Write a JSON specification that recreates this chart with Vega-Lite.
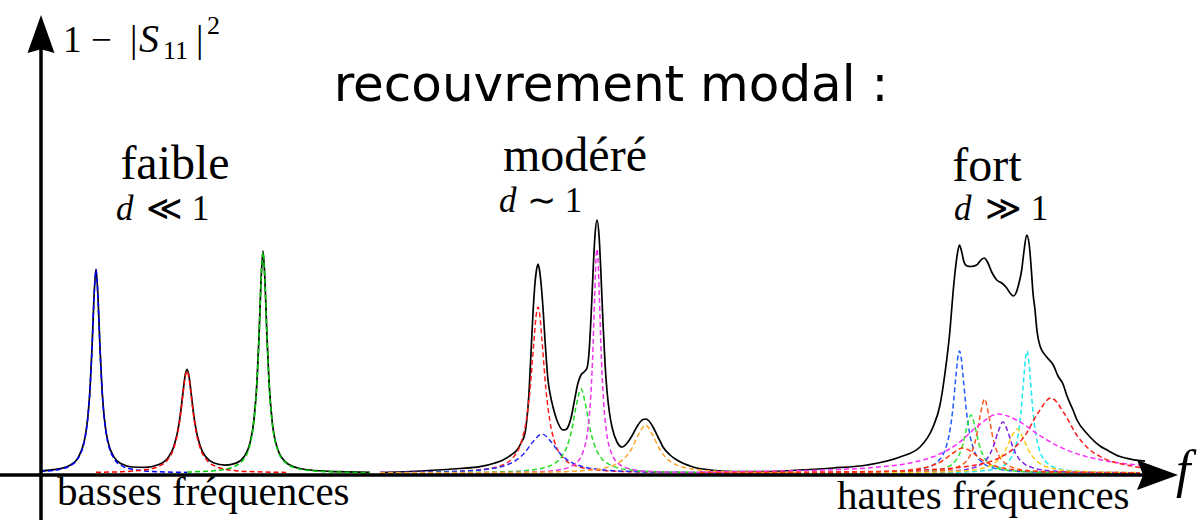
{
  "$schema": "https://vega.github.io/schema/vega-lite/v6.json",
  "width": 1203,
  "height": 520,
  "autosize": "none",
  "padding": 0,
  "background": "white",
  "config": {"view": {"stroke": null}},
  "datasets": {
    "courbes": [
      {"serie":"T1","x":40,"y":2},{"serie":"T1","x":60,"y":4.3},{"serie":"T1","x":70,"y":7.8},{"serie":"T1","x":78,"y":15.2},{"serie":"T1","x":84,"y":30.7},{"serie":"T1","x":86,"y":41.3},{"serie":"T1","x":88,"y":57.8},{"serie":"T1","x":90,"y":84},{"serie":"T1","x":92,"y":124.6},{"serie":"T1","x":94,"y":175.9},{"serie":"T1","x":96,"y":203.9},{"serie":"T1","x":98,"y":175.9},{"serie":"T1","x":100,"y":124.8},{"serie":"T1","x":102,"y":84.2},{"serie":"T1","x":104,"y":58.1},{"serie":"T1","x":106,"y":41.7},{"serie":"T1","x":108,"y":31.1},{"serie":"T1","x":114,"y":15.9},{"serie":"T1","x":122,"y":8.9},{"serie":"T1","x":132,"y":6},{"serie":"T1","x":145,"y":5.6},{"serie":"T1","x":158,"y":8.2},{"serie":"T1","x":168,"y":15.3},{"serie":"T1","x":174,"y":27},{"serie":"T1","x":179,"y":49.2},{"serie":"T1","x":181,"y":63.7},{"serie":"T1","x":183,"y":80.9},{"serie":"T1","x":185,"y":96.7},{"serie":"T1","x":187,"y":103.6},{"serie":"T1","x":189,"y":96.8},{"serie":"T1","x":191,"y":81},{"serie":"T1","x":193,"y":63.9},{"serie":"T1","x":195,"y":49.4},{"serie":"T1","x":200,"y":27.4},{"serie":"T1","x":206,"y":15.9},{"serie":"T1","x":214,"y":10},{"serie":"T1","x":225,"y":7.9},{"serie":"T1","x":236,"y":9.9},{"serie":"T1","x":244,"y":16.3},{"serie":"T1","x":250,"y":30.1},{"serie":"T1","x":254,"y":53.6},{"serie":"T1","x":257,"y":91.9},{"serie":"T1","x":259,"y":136.1},{"serie":"T1","x":261,"y":191.7},{"serie":"T1","x":263,"y":222.2},{"serie":"T1","x":265,"y":191.6},{"serie":"T1","x":267,"y":135.9},{"serie":"T1","x":269,"y":91.6},{"serie":"T1","x":272,"y":53.1},{"serie":"T1","x":278,"y":22.9},{"serie":"T1","x":286,"y":10.7},{"serie":"T1","x":298,"y":5},{"serie":"T1","x":315,"y":2.5},{"serie":"T1","x":340,"y":1.3},{"serie":"T1","x":370,"y":0.7},

      {"serie":"T2","x":380,"y":0.5},{"serie":"T2","x":410,"y":1.5},{"serie":"T2","x":437,"y":3},{"serie":"T2","x":460,"y":4.5},{"serie":"T2","x":480,"y":6.3},{"serie":"T2","x":495,"y":10},{"serie":"T2","x":503,"y":13},{"serie":"T2","x":511,"y":18},{"serie":"T2","x":517,"y":23},{"serie":"T2","x":521,"y":30},{"serie":"T2","x":525,"y":40},{"serie":"T2","x":527,"y":55},{"serie":"T2","x":529,"y":80},{"serie":"T2","x":531,"y":120},{"serie":"T2","x":533,"y":160},{"serie":"T2","x":535,"y":190},{"serie":"T2","x":536.5,"y":203},{"serie":"T2","x":538,"y":209},{"serie":"T2","x":539.5,"y":203},{"serie":"T2","x":541,"y":190},{"serie":"T2","x":543,"y":165},{"serie":"T2","x":545,"y":133},{"serie":"T2","x":548,"y":93},{"serie":"T2","x":550.5,"y":77},{"serie":"T2","x":553,"y":66},{"serie":"T2","x":558,"y":50},{"serie":"T2","x":563,"y":43},{"serie":"T2","x":566,"y":43.5},{"serie":"T2","x":568,"y":46},{"serie":"T2","x":571,"y":55},{"serie":"T2","x":574,"y":70},{"serie":"T2","x":578,"y":90},{"serie":"T2","x":581,"y":98},{"serie":"T2","x":584,"y":101},{"serie":"T2","x":587,"y":105},{"serie":"T2","x":589,"y":120},{"serie":"T2","x":591,"y":155},{"serie":"T2","x":593,"y":200},{"serie":"T2","x":595,"y":238},{"serie":"T2","x":597,"y":253},{"serie":"T2","x":599,"y":238},{"serie":"T2","x":601,"y":198},{"serie":"T2","x":603,"y":150},{"serie":"T2","x":605,"y":110},{"serie":"T2","x":607,"y":82},{"serie":"T2","x":609.5,"y":60},{"serie":"T2","x":612,"y":46},{"serie":"T2","x":617,"y":31},{"serie":"T2","x":622,"y":26},{"serie":"T2","x":628,"y":31},{"serie":"T2","x":633,"y":39},{"serie":"T2","x":638,"y":48},{"serie":"T2","x":643,"y":53.5},{"serie":"T2","x":646,"y":54},{"serie":"T2","x":649,"y":52},{"serie":"T2","x":653,"y":46},{"serie":"T2","x":658,"y":36},{"serie":"T2","x":663,"y":26},{"serie":"T2","x":670,"y":18},{"serie":"T2","x":677,"y":13},{"serie":"T2","x":693,"y":6},{"serie":"T2","x":710,"y":3},{"serie":"T2","x":733,"y":1.5},{"serie":"T2","x":767,"y":1.5},{"serie":"T2","x":800,"y":3},{"serie":"T2","x":833,"y":5},{"serie":"T2","x":867,"y":8},{"serie":"T2","x":900,"y":16},{"serie":"T2","x":920,"y":26},{"serie":"T2","x":933,"y":46},{"serie":"T2","x":940,"y":68},{"serie":"T2","x":945,"y":100},{"serie":"T2","x":950,"y":143},{"serie":"T2","x":953,"y":180},{"serie":"T2","x":955.5,"y":205},{"serie":"T2","x":957.5,"y":220},{"serie":"T2","x":959.5,"y":228},{"serie":"T2","x":961.5,"y":222},{"serie":"T2","x":964,"y":211},{"serie":"T2","x":967,"y":207},{"serie":"T2","x":971,"y":206.5},{"serie":"T2","x":976.7,"y":208},{"serie":"T2","x":981,"y":213},{"serie":"T2","x":984.3,"y":215},{"serie":"T2","x":987.5,"y":211},{"serie":"T2","x":991.7,"y":201},{"serie":"T2","x":996.7,"y":193},{"serie":"T2","x":1001.7,"y":190},{"serie":"T2","x":1006,"y":186},{"serie":"T2","x":1010,"y":180},{"serie":"T2","x":1013.3,"y":177},{"serie":"T2","x":1016,"y":180},{"serie":"T2","x":1019,"y":190},{"serie":"T2","x":1021.7,"y":203},{"serie":"T2","x":1024,"y":222},{"serie":"T2","x":1026.7,"y":238},{"serie":"T2","x":1029,"y":230},{"serie":"T2","x":1031,"y":208},{"serie":"T2","x":1033,"y":180},{"serie":"T2","x":1035,"y":163},{"serie":"T2","x":1037,"y":142},{"serie":"T2","x":1040,"y":127},{"serie":"T2","x":1046.7,"y":116},{"serie":"T2","x":1053.3,"y":108},{"serie":"T2","x":1058,"y":97},{"serie":"T2","x":1063,"y":89},{"serie":"T2","x":1067,"y":77},{"serie":"T2","x":1073,"y":63},{"serie":"T2","x":1077,"y":53},{"serie":"T2","x":1086.7,"y":39.7},{"serie":"T2","x":1090,"y":36},{"serie":"T2","x":1100,"y":27},{"serie":"T2","x":1107,"y":23},{"serie":"T2","x":1120,"y":16.5},{"serie":"T2","x":1127,"y":14.7},{"serie":"T2","x":1140,"y":12.3},{"serie":"T2","x":1145,"y":11.8},

      {"serie":"b_bleu","x":40,"y":1.6},{"serie":"b_bleu","x":60,"y":3.8},{"serie":"b_bleu","x":70,"y":7.2},{"serie":"b_bleu","x":78,"y":14.5},{"serie":"b_bleu","x":84,"y":30},{"serie":"b_bleu","x":86,"y":40.6},{"serie":"b_bleu","x":88,"y":57},{"serie":"b_bleu","x":90,"y":83.2},{"serie":"b_bleu","x":92,"y":123.8},{"serie":"b_bleu","x":94,"y":175},{"serie":"b_bleu","x":96,"y":203},{"serie":"b_bleu","x":98,"y":175},{"serie":"b_bleu","x":100,"y":123.8},{"serie":"b_bleu","x":102,"y":83.2},{"serie":"b_bleu","x":104,"y":57},{"serie":"b_bleu","x":106,"y":40.6},{"serie":"b_bleu","x":108,"y":30},{"serie":"b_bleu","x":114,"y":14.5},{"serie":"b_bleu","x":122,"y":7.2},{"serie":"b_bleu","x":132,"y":3.8},{"serie":"b_bleu","x":145,"y":2.1},{"serie":"b_bleu","x":158,"y":1.3},{"serie":"b_bleu","x":168,"y":1},{"serie":"b_bleu","x":179,"y":0.7},{"serie":"b_bleu","x":187,"y":0.6},

      {"serie":"b_rouge","x":96,"y":0.7},{"serie":"b_rouge","x":108,"y":0.9},{"serie":"b_rouge","x":122,"y":1.3},{"serie":"b_rouge","x":132,"y":1.9},{"serie":"b_rouge","x":145,"y":3.2},{"serie":"b_rouge","x":158,"y":6.4},{"serie":"b_rouge","x":168,"y":13.8},{"serie":"b_rouge","x":174,"y":25.5},{"serie":"b_rouge","x":179,"y":47.7},{"serie":"b_rouge","x":181,"y":62.2},{"serie":"b_rouge","x":183,"y":79.4},{"serie":"b_rouge","x":185,"y":95.2},{"serie":"b_rouge","x":187,"y":102},{"serie":"b_rouge","x":189,"y":95.2},{"serie":"b_rouge","x":191,"y":79.4},{"serie":"b_rouge","x":193,"y":62.2},{"serie":"b_rouge","x":195,"y":47.7},{"serie":"b_rouge","x":200,"y":25.5},{"serie":"b_rouge","x":206,"y":13.8},{"serie":"b_rouge","x":214,"y":7.3},{"serie":"b_rouge","x":225,"y":3.8},{"serie":"b_rouge","x":236,"y":2.3},{"serie":"b_rouge","x":250,"y":1.4},{"serie":"b_rouge","x":263,"y":1},{"serie":"b_rouge","x":286,"y":0.6},

      {"serie":"b_vert","x":187,"y":0.95},{"serie":"b_vert","x":200,"y":1.4},{"serie":"b_vert","x":214,"y":2.3},{"serie":"b_vert","x":225,"y":3.8},{"serie":"b_vert","x":236,"y":7.3},{"serie":"b_vert","x":244,"y":14.3},{"serie":"b_vert","x":250,"y":28.5},{"serie":"b_vert","x":254,"y":52.1},{"serie":"b_vert","x":257,"y":90.6},{"serie":"b_vert","x":259,"y":134.8},{"serie":"b_vert","x":261,"y":190.5},{"serie":"b_vert","x":263,"y":221},{"serie":"b_vert","x":265,"y":190.5},{"serie":"b_vert","x":267,"y":134.8},{"serie":"b_vert","x":269,"y":90.6},{"serie":"b_vert","x":272,"y":52.1},{"serie":"b_vert","x":278,"y":22.1},{"serie":"b_vert","x":286,"y":10},{"serie":"b_vert","x":298,"y":4.4},{"serie":"b_vert","x":315,"y":2},{"serie":"b_vert","x":340,"y":0.9},{"serie":"b_vert","x":370,"y":0.5},

      {"serie":"m_rouge","x":380,"y":0.4},{"serie":"m_rouge","x":442,"y":1.2},{"serie":"m_rouge","x":474,"y":2.6},{"serie":"m_rouge","x":498,"y":6.4},{"serie":"m_rouge","x":514,"y":16.6},{"serie":"m_rouge","x":522,"y":33.2},{"serie":"m_rouge","x":526,"y":51.1},{"serie":"m_rouge","x":530,"y":83},{"serie":"m_rouge","x":534,"y":132.8},{"serie":"m_rouge","x":536,"y":156.2},{"serie":"m_rouge","x":538,"y":166},{"serie":"m_rouge","x":540,"y":156.2},{"serie":"m_rouge","x":542,"y":132.8},{"serie":"m_rouge","x":546,"y":83},{"serie":"m_rouge","x":550,"y":51.1},{"serie":"m_rouge","x":554,"y":33.2},{"serie":"m_rouge","x":562,"y":16.6},{"serie":"m_rouge","x":578,"y":6.4},{"serie":"m_rouge","x":602,"y":2.6},{"serie":"m_rouge","x":634,"y":1.2},{"serie":"m_rouge","x":698,"y":0.4},{"serie":"m_rouge","x":800,"y":0.15},

      {"serie":"m_bleu","x":380,"y":0.5},{"serie":"m_bleu","x":398,"y":0.6},{"serie":"m_bleu","x":452,"y":1.5},{"serie":"m_bleu","x":488,"y":3.9},{"serie":"m_bleu","x":506,"y":7.8},{"serie":"m_bleu","x":515,"y":12},{"serie":"m_bleu","x":524,"y":19.5},{"serie":"m_bleu","x":533,"y":31.2},{"serie":"m_bleu","x":542,"y":39},{"serie":"m_bleu","x":551,"y":31.2},{"serie":"m_bleu","x":560,"y":19.5},{"serie":"m_bleu","x":569,"y":12},{"serie":"m_bleu","x":578,"y":7.8},{"serie":"m_bleu","x":596,"y":3.9},{"serie":"m_bleu","x":632,"y":1.5},{"serie":"m_bleu","x":686,"y":0.6},{"serie":"m_bleu","x":758,"y":0.3},{"serie":"m_bleu","x":800,"y":0.2},

      {"serie":"m_vert","x":380,"y":0.2},{"serie":"m_vert","x":467,"y":0.6},{"serie":"m_vert","x":505,"y":1.3},{"serie":"m_vert","x":533.5,"y":3.2},{"serie":"m_vert","x":552.5,"y":8.4},{"serie":"m_vert","x":562,"y":16.8},{"serie":"m_vert","x":566.75,"y":25.8},{"serie":"m_vert","x":571.5,"y":42},{"serie":"m_vert","x":576.25,"y":67.2},{"serie":"m_vert","x":581,"y":84},{"serie":"m_vert","x":585.75,"y":67.2},{"serie":"m_vert","x":590.5,"y":42},{"serie":"m_vert","x":595.25,"y":25.8},{"serie":"m_vert","x":600,"y":16.8},{"serie":"m_vert","x":609.5,"y":8.4},{"serie":"m_vert","x":628.5,"y":3.2},{"serie":"m_vert","x":657,"y":1.3},{"serie":"m_vert","x":695,"y":0.6},{"serie":"m_vert","x":771,"y":0.2},{"serie":"m_vert","x":800,"y":0.17},

      {"serie":"m_magenta","x":380,"y":0.1},{"serie":"m_magenta","x":507,"y":0.56},{"serie":"m_magenta","x":543,"y":1.55},{"serie":"m_magenta","x":561,"y":3.45},{"serie":"m_magenta","x":574.5,"y":8.6},{"serie":"m_magenta","x":583.5,"y":22.4},{"serie":"m_magenta","x":588,"y":44.8},{"serie":"m_magenta","x":590.25,"y":68.9},{"serie":"m_magenta","x":592.5,"y":112},{"serie":"m_magenta","x":594.75,"y":179.2},{"serie":"m_magenta","x":596,"y":213.5},{"serie":"m_magenta","x":597,"y":224},{"serie":"m_magenta","x":598,"y":213.5},{"serie":"m_magenta","x":599.25,"y":179.2},{"serie":"m_magenta","x":601.5,"y":112},{"serie":"m_magenta","x":603.75,"y":68.9},{"serie":"m_magenta","x":606,"y":44.8},{"serie":"m_magenta","x":610.5,"y":22.4},{"serie":"m_magenta","x":619.5,"y":8.6},{"serie":"m_magenta","x":633,"y":3.45},{"serie":"m_magenta","x":651,"y":1.55},{"serie":"m_magenta","x":687,"y":0.56},{"serie":"m_magenta","x":800,"y":0.11},

      {"serie":"m_orange","x":380,"y":0.13},{"serie":"m_orange","x":477.5,"y":0.33},{"serie":"m_orange","x":533.5,"y":0.74},{"serie":"m_orange","x":575.5,"y":1.85},{"serie":"m_orange","x":603.5,"y":4.8},{"serie":"m_orange","x":617.5,"y":9.6},{"serie":"m_orange","x":624.5,"y":14.8},{"serie":"m_orange","x":631.5,"y":24},{"serie":"m_orange","x":638.5,"y":38.4},{"serie":"m_orange","x":645.5,"y":48},{"serie":"m_orange","x":652.5,"y":38.4},{"serie":"m_orange","x":659.5,"y":24},{"serie":"m_orange","x":666.5,"y":14.8},{"serie":"m_orange","x":673.5,"y":9.6},{"serie":"m_orange","x":687.5,"y":4.8},{"serie":"m_orange","x":715.5,"y":1.85},{"serie":"m_orange","x":757.5,"y":0.74},{"serie":"m_orange","x":800,"y":0.4},

      {"serie":"h_bleu","x":700,"y":0.09},{"serie":"h_bleu","x":819.5,"y":0.31},{"serie":"h_bleu","x":875.5,"y":0.84},{"serie":"h_bleu","x":903.5,"y":1.88},{"serie":"h_bleu","x":924.5,"y":4.69},{"serie":"h_bleu","x":938.5,"y":12.2},{"serie":"h_bleu","x":945.5,"y":24.4},{"serie":"h_bleu","x":949,"y":37.5},{"serie":"h_bleu","x":952.5,"y":61},{"serie":"h_bleu","x":956,"y":97.6},{"serie":"h_bleu","x":957.75,"y":114.8},{"serie":"h_bleu","x":959.5,"y":122},{"serie":"h_bleu","x":961.25,"y":114.8},{"serie":"h_bleu","x":963,"y":97.6},{"serie":"h_bleu","x":966.5,"y":61},{"serie":"h_bleu","x":970,"y":37.5},{"serie":"h_bleu","x":973.5,"y":24.4},{"serie":"h_bleu","x":980.5,"y":12.2},{"serie":"h_bleu","x":994.5,"y":4.69},{"serie":"h_bleu","x":1015.5,"y":1.88},{"serie":"h_bleu","x":1043.5,"y":0.84},{"serie":"h_bleu","x":1099.5,"y":0.31},{"serie":"h_bleu","x":1140,"y":0.18},

      {"serie":"h_cyan","x":700,"y":0.04},{"serie":"h_cyan","x":907,"y":0.31},{"serie":"h_cyan","x":955,"y":0.84},{"serie":"h_cyan","x":979,"y":1.88},{"serie":"h_cyan","x":997,"y":4.69},{"serie":"h_cyan","x":1009,"y":12.2},{"serie":"h_cyan","x":1015,"y":24.4},{"serie":"h_cyan","x":1018,"y":37.5},{"serie":"h_cyan","x":1021,"y":61},{"serie":"h_cyan","x":1024,"y":97.6},{"serie":"h_cyan","x":1025.5,"y":114.8},{"serie":"h_cyan","x":1027,"y":122},{"serie":"h_cyan","x":1028.5,"y":114.8},{"serie":"h_cyan","x":1030,"y":97.6},{"serie":"h_cyan","x":1033,"y":61},{"serie":"h_cyan","x":1036,"y":37.5},{"serie":"h_cyan","x":1039,"y":24.4},{"serie":"h_cyan","x":1045,"y":12.2},{"serie":"h_cyan","x":1057,"y":4.69},{"serie":"h_cyan","x":1075,"y":1.88},{"serie":"h_cyan","x":1099,"y":0.84},{"serie":"h_cyan","x":1140,"y":0.34},

      {"serie":"h_vert","x":700,"y":0.05},{"serie":"h_vert","x":811,"y":0.15},{"serie":"h_vert","x":875,"y":0.4},{"serie":"h_vert","x":907,"y":0.89},{"serie":"h_vert","x":931,"y":2.23},{"serie":"h_vert","x":947,"y":5.8},{"serie":"h_vert","x":955,"y":11.6},{"serie":"h_vert","x":959,"y":17.8},{"serie":"h_vert","x":963,"y":29},{"serie":"h_vert","x":967,"y":46.4},{"serie":"h_vert","x":971,"y":58},{"serie":"h_vert","x":975,"y":46.4},{"serie":"h_vert","x":979,"y":29},{"serie":"h_vert","x":983,"y":17.8},{"serie":"h_vert","x":987,"y":11.6},{"serie":"h_vert","x":995,"y":5.8},{"serie":"h_vert","x":1011,"y":2.23},{"serie":"h_vert","x":1035,"y":0.89},{"serie":"h_vert","x":1067,"y":0.4},{"serie":"h_vert","x":1140,"y":0.14},

      {"serie":"h_orange","x":700,"y":0.06},{"serie":"h_orange","x":824.5,"y":0.18},{"serie":"h_orange","x":888.5,"y":0.51},{"serie":"h_orange","x":920.5,"y":1.14},{"serie":"h_orange","x":944.5,"y":2.85},{"serie":"h_orange","x":960.5,"y":7.4},{"serie":"h_orange","x":968.5,"y":14.8},{"serie":"h_orange","x":972.5,"y":22.8},{"serie":"h_orange","x":976.5,"y":37},{"serie":"h_orange","x":980.5,"y":59.2},{"serie":"h_orange","x":984.5,"y":74},{"serie":"h_orange","x":988.5,"y":59.2},{"serie":"h_orange","x":992.5,"y":37},{"serie":"h_orange","x":996.5,"y":22.8},{"serie":"h_orange","x":1000.5,"y":14.8},{"serie":"h_orange","x":1008.5,"y":7.4},{"serie":"h_orange","x":1024.5,"y":2.85},{"serie":"h_orange","x":1048.5,"y":1.14},{"serie":"h_orange","x":1080.5,"y":0.51},{"serie":"h_orange","x":1140,"y":0.2},

      {"serie":"h_magenta","x":700,"y":1.04},{"serie":"h_magenta","x":798,"y":2.27},{"serie":"h_magenta","x":878,"y":5.9},{"serie":"h_magenta","x":918,"y":11.8},{"serie":"h_magenta","x":938,"y":18.2},{"serie":"h_magenta","x":958,"y":29.5},{"serie":"h_magenta","x":978,"y":47.2},{"serie":"h_magenta","x":998,"y":59},{"serie":"h_magenta","x":1018,"y":52.2},{"serie":"h_magenta","x":1038,"y":38.6},{"serie":"h_magenta","x":1058,"y":26.9},{"serie":"h_magenta","x":1078,"y":18.9},{"serie":"h_magenta","x":1098,"y":13.7},{"serie":"h_magenta","x":1118,"y":10.2},{"serie":"h_magenta","x":1140,"y":7.7},

      {"serie":"h_violet","x":700,"y":0.06},{"serie":"h_violet","x":803,"y":0.13},{"serie":"h_violet","x":883,"y":0.35},{"serie":"h_violet","x":923,"y":0.78},{"serie":"h_violet","x":953,"y":1.96},{"serie":"h_violet","x":973,"y":5.1},{"serie":"h_violet","x":983,"y":10.2},{"serie":"h_violet","x":988,"y":15.7},{"serie":"h_violet","x":993,"y":25.5},{"serie":"h_violet","x":998,"y":40.8},{"serie":"h_violet","x":1003,"y":51},{"serie":"h_violet","x":1008,"y":40.8},{"serie":"h_violet","x":1013,"y":25.5},{"serie":"h_violet","x":1018,"y":15.7},{"serie":"h_violet","x":1023,"y":10.2},{"serie":"h_violet","x":1033,"y":5.1},{"serie":"h_violet","x":1053,"y":1.96},{"serie":"h_violet","x":1083,"y":0.78},{"serie":"h_violet","x":1123,"y":0.35},{"serie":"h_violet","x":1140,"y":0.27},

      {"serie":"h_jaune","x":700,"y":0.06},{"serie":"h_jaune","x":873,"y":0.3},{"serie":"h_jaune","x":921,"y":0.68},{"serie":"h_jaune","x":957,"y":1.69},{"serie":"h_jaune","x":981,"y":4.4},{"serie":"h_jaune","x":993,"y":8.8},{"serie":"h_jaune","x":999,"y":13.5},{"serie":"h_jaune","x":1005,"y":22},{"serie":"h_jaune","x":1011,"y":35.2},{"serie":"h_jaune","x":1017,"y":44},{"serie":"h_jaune","x":1023,"y":35.2},{"serie":"h_jaune","x":1029,"y":22},{"serie":"h_jaune","x":1035,"y":13.5},{"serie":"h_jaune","x":1041,"y":8.8},{"serie":"h_jaune","x":1053,"y":4.4},{"serie":"h_jaune","x":1077,"y":1.69},{"serie":"h_jaune","x":1113,"y":0.68},{"serie":"h_jaune","x":1140,"y":0.41},

      {"serie":"h_rouge","x":700,"y":0.41},{"serie":"h_rouge","x":843,"y":1.15},{"serie":"h_rouge","x":921,"y":2.88},{"serie":"h_rouge","x":973,"y":7.5},{"serie":"h_rouge","x":999,"y":15},{"serie":"h_rouge","x":1012,"y":23.1},{"serie":"h_rouge","x":1025,"y":37.5},{"serie":"h_rouge","x":1038,"y":60},{"serie":"h_rouge","x":1051,"y":75},{"serie":"h_rouge","x":1064,"y":60},{"serie":"h_rouge","x":1077,"y":37.5},{"serie":"h_rouge","x":1090,"y":23.1},{"serie":"h_rouge","x":1103,"y":15},{"serie":"h_rouge","x":1129,"y":7.5},{"serie":"h_rouge","x":1140,"y":5.5},

      {"serie":"h_rouge2","x":700,"y":0.14},{"serie":"h_rouge2","x":843,"y":0.65},{"serie":"h_rouge2","x":888,"y":1.6},{"serie":"h_rouge2","x":918,"y":4.2},{"serie":"h_rouge2","x":933,"y":7.7},{"serie":"h_rouge2","x":943,"y":12.5},{"serie":"h_rouge2","x":953,"y":20},{"serie":"h_rouge2","x":963,"y":25},{"serie":"h_rouge2","x":973,"y":20},{"serie":"h_rouge2","x":983,"y":12.5},{"serie":"h_rouge2","x":993,"y":7.7},{"serie":"h_rouge2","x":1003,"y":5},{"serie":"h_rouge2","x":1023,"y":2.5},{"serie":"h_rouge2","x":1063,"y":0.96},{"serie":"h_rouge2","x":1123,"y":0.38},{"serie":"h_rouge2","x":1140,"y":0.32}
    ],
    "axes": [
      {"axe":"x","x":0,"y":-2},{"axe":"x","x":1150,"y":-2},
      {"axe":"y","x":41,"y":-47},{"axe":"y","x":41,"y":425}
    ],
    "fleches": [
      {"fleche":"y","x":41,"y":439},
      {"fleche":"x","x":1157.5,"y":-2}
    ],
    "textes": [
      {"role":"titre","t":"recouvrement modal :","x":611,"y":372},
      {"role":"regime","t":"faible","x":175,"y":294},
      {"role":"regime","t":"modéré","x":575,"y":302},
      {"role":"regime","t":"fort","x":987,"y":292},
      {"role":"var","t":"d","x":116,"y":253},
      {"role":"rel","t":"≪ 1","x":146,"y":253},
      {"role":"var","t":"d","x":499,"y":261},
      {"role":"rel","t":"∼ 1","x":527,"y":261},
      {"role":"var","t":"d","x":954,"y":253},
      {"role":"rel","t":"≫ 1","x":985,"y":253},
      {"role":"bande","t":"basses fréquences","x":57,"y":-32},
      {"role":"bande","t":"hautes fréquences","x":837,"y":-36},
      {"role":"axef","t":"f","x":1176,"y":-14},
      {"role":"ylab","t":"1","x":63,"y":421},
      {"role":"ylab","t":"−","x":91,"y":421},
      {"role":"ylab","t":"|","x":130,"y":421},
      {"role":"ylabS","t":"S","x":139,"y":421},
      {"role":"ylabsub","t":"11","x":163,"y":414},
      {"role":"ylab","t":"|","x":196,"y":421},
      {"role":"ylabsub","t":"2","x":207,"y":439}
    ]
  },
  "layer": [
    {
      "data": {"name": "courbes"},
      "transform": [{"filter": "datum.serie === 'T1' || datum.serie === 'T2'"}],
      "mark": {"type": "line", "color": "black", "strokeWidth": 1.7, "interpolate": "monotone"},
      "encoding": {
        "x": {"field": "x", "type": "quantitative", "scale": {"domain": [0, 1203], "nice": false, "zero": false}, "axis": null},
        "y": {"field": "y", "type": "quantitative", "scale": {"domain": [-47, 473], "nice": false, "zero": false}, "axis": null},
        "detail": {"field": "serie"}
      }
    },
    {
      "data": {"name": "courbes"},
      "transform": [{"filter": "datum.serie !== 'T1' && datum.serie !== 'T2'"}],
      "mark": {"type": "line", "strokeWidth": 1.5, "strokeDash": [5, 3], "interpolate": "monotone"},
      "encoding": {
        "x": {"field": "x", "type": "quantitative", "scale": {"domain": [0, 1203], "nice": false, "zero": false}, "axis": null},
        "y": {"field": "y", "type": "quantitative", "scale": {"domain": [-47, 473], "nice": false, "zero": false}, "axis": null},
        "color": {
          "field": "serie", "type": "nominal", "legend": null,
          "scale": {
            "domain": ["b_bleu","b_rouge","b_vert","m_rouge","m_bleu","m_vert","m_magenta","m_orange","h_bleu","h_cyan","h_vert","h_orange","h_magenta","h_violet","h_jaune","h_rouge","h_rouge2"],
            "range": ["#0000ff","#ff0000","#00cc00","#ff1f1f","#2a2aff","#22dd22","#ee33ee","#ffa52a","#1f5cff","#1ee8f0","#2fe82f","#ff5c1f","#ff2cff","#7a1fee","#ffcc1a","#ff1a1a","#ff3a10"]
          }
        }
      }
    },
    {
      "data": {"name": "axes"},
      "mark": {"type": "line", "color": "black", "strokeWidth": 3.5},
      "encoding": {
        "x": {"field": "x", "type": "quantitative", "scale": {"domain": [0, 1203], "nice": false, "zero": false}, "axis": null},
        "y": {"field": "y", "type": "quantitative", "scale": {"domain": [-47, 473], "nice": false, "zero": false}, "axis": null},
        "detail": {"field": "axe"}
      }
    },
    {
      "data": {"name": "fleches"},
      "transform": [{"filter": "datum.fleche === 'y'"}],
      "mark": {"type": "point", "shape": "M0,-1L0.71,1L0,0.8L-0.71,1Z", "size": 1444, "filled": true, "opacity": 1, "color": "black", "strokeWidth": 0},
      "encoding": {
        "x": {"field": "x", "type": "quantitative", "scale": {"domain": [0, 1203], "nice": false, "zero": false}, "axis": null},
        "y": {"field": "y", "type": "quantitative", "scale": {"domain": [-47, 473], "nice": false, "zero": false}, "axis": null}
      }
    },
    {
      "data": {"name": "fleches"},
      "transform": [{"filter": "datum.fleche === 'x'"}],
      "mark": {"type": "point", "shape": "M1,0L-1,0.73L-0.7,0L-1,-0.73Z", "size": 1681, "filled": true, "opacity": 1, "color": "black", "strokeWidth": 0},
      "encoding": {
        "x": {"field": "x", "type": "quantitative", "scale": {"domain": [0, 1203], "nice": false, "zero": false}, "axis": null},
        "y": {"field": "y", "type": "quantitative", "scale": {"domain": [-47, 473], "nice": false, "zero": false}, "axis": null}
      }
    },
    {
      "data": {"name": "textes"},
      "transform": [{"filter": "datum.role === 'titre'"}],
      "mark": {"type": "text", "font": "DejaVu Sans", "fontSize": 50, "align": "center", "baseline": "alphabetic", "color": "black"},
      "encoding": {
        "x": {"field": "x", "type": "quantitative", "scale": {"domain": [0, 1203], "nice": false, "zero": false}, "axis": null},
        "y": {"field": "y", "type": "quantitative", "scale": {"domain": [-47, 473], "nice": false, "zero": false}, "axis": null},
        "text": {"field": "t"}
      }
    },
    {
      "data": {"name": "textes"},
      "transform": [{"filter": "datum.role === 'regime'"}],
      "mark": {"type": "text", "font": "Liberation Serif", "fontSize": 48, "align": "center", "baseline": "alphabetic", "color": "black"},
      "encoding": {
        "x": {"field": "x", "type": "quantitative", "scale": {"domain": [0, 1203], "nice": false, "zero": false}, "axis": null},
        "y": {"field": "y", "type": "quantitative", "scale": {"domain": [-47, 473], "nice": false, "zero": false}, "axis": null},
        "text": {"field": "t"}
      }
    },
    {
      "data": {"name": "textes"},
      "transform": [{"filter": "datum.role === 'var'"}],
      "mark": {"type": "text", "font": "Liberation Serif", "fontStyle": "italic", "fontSize": 35, "align": "left", "baseline": "alphabetic", "color": "black"},
      "encoding": {
        "x": {"field": "x", "type": "quantitative", "scale": {"domain": [0, 1203], "nice": false, "zero": false}, "axis": null},
        "y": {"field": "y", "type": "quantitative", "scale": {"domain": [-47, 473], "nice": false, "zero": false}, "axis": null},
        "text": {"field": "t"}
      }
    },
    {
      "data": {"name": "textes"},
      "transform": [{"filter": "datum.role === 'rel'"}],
      "mark": {"type": "text", "font": "Liberation Serif", "fontSize": 35, "align": "left", "baseline": "alphabetic", "color": "black"},
      "encoding": {
        "x": {"field": "x", "type": "quantitative", "scale": {"domain": [0, 1203], "nice": false, "zero": false}, "axis": null},
        "y": {"field": "y", "type": "quantitative", "scale": {"domain": [-47, 473], "nice": false, "zero": false}, "axis": null},
        "text": {"field": "t"}
      }
    },
    {
      "data": {"name": "textes"},
      "transform": [{"filter": "datum.role === 'bande'"}],
      "mark": {"type": "text", "font": "Liberation Serif", "fontSize": 41, "align": "left", "baseline": "alphabetic", "color": "black"},
      "encoding": {
        "x": {"field": "x", "type": "quantitative", "scale": {"domain": [0, 1203], "nice": false, "zero": false}, "axis": null},
        "y": {"field": "y", "type": "quantitative", "scale": {"domain": [-47, 473], "nice": false, "zero": false}, "axis": null},
        "text": {"field": "t"}
      }
    },
    {
      "data": {"name": "textes"},
      "transform": [{"filter": "datum.role === 'axef'"}],
      "mark": {"type": "text", "font": "Liberation Serif", "fontStyle": "italic", "fontSize": 52, "align": "left", "baseline": "alphabetic", "color": "black"},
      "encoding": {
        "x": {"field": "x", "type": "quantitative", "scale": {"domain": [0, 1203], "nice": false, "zero": false}, "axis": null},
        "y": {"field": "y", "type": "quantitative", "scale": {"domain": [-47, 473], "nice": false, "zero": false}, "axis": null},
        "text": {"field": "t"}
      }
    },
    {
      "data": {"name": "textes"},
      "transform": [{"filter": "datum.role === 'ylab'"}],
      "mark": {"type": "text", "font": "Liberation Serif", "fontSize": 37, "align": "left", "baseline": "alphabetic", "color": "black"},
      "encoding": {
        "x": {"field": "x", "type": "quantitative", "scale": {"domain": [0, 1203], "nice": false, "zero": false}, "axis": null},
        "y": {"field": "y", "type": "quantitative", "scale": {"domain": [-47, 473], "nice": false, "zero": false}, "axis": null},
        "text": {"field": "t"}
      }
    },
    {
      "data": {"name": "textes"},
      "transform": [{"filter": "datum.role === 'ylabS'"}],
      "mark": {"type": "text", "font": "Liberation Serif", "fontStyle": "italic", "fontSize": 40, "align": "left", "baseline": "alphabetic", "color": "black"},
      "encoding": {
        "x": {"field": "x", "type": "quantitative", "scale": {"domain": [0, 1203], "nice": false, "zero": false}, "axis": null},
        "y": {"field": "y", "type": "quantitative", "scale": {"domain": [-47, 473], "nice": false, "zero": false}, "axis": null},
        "text": {"field": "t"}
      }
    },
    {
      "data": {"name": "textes"},
      "transform": [{"filter": "datum.role === 'ylabsub'"}],
      "mark": {"type": "text", "font": "Liberation Serif", "fontSize": 26, "align": "left", "baseline": "alphabetic", "color": "black"},
      "encoding": {
        "x": {"field": "x", "type": "quantitative", "scale": {"domain": [0, 1203], "nice": false, "zero": false}, "axis": null},
        "y": {"field": "y", "type": "quantitative", "scale": {"domain": [-47, 473], "nice": false, "zero": false}, "axis": null},
        "text": {"field": "t"}
      }
    }
  ]
}
